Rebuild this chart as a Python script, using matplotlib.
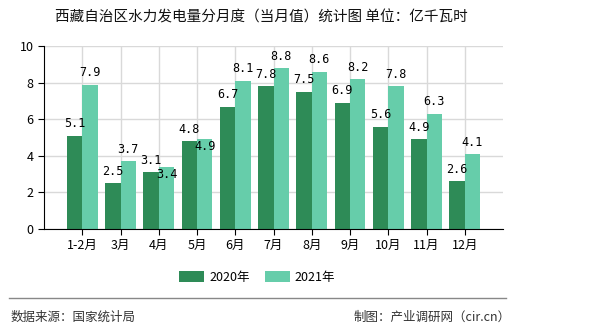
import matplotlib.pyplot as plt
import numpy as np

plt.rcParams['font.family'] = ['Noto Sans CJK SC', 'DejaVu Sans']

months = ["1-2月", "3月", "4月", "5月", "6月", "7月", "8月", "9月", "10月", "11月", "12月"]
y2020 = [5.1, 2.5, 3.1, 4.8, 6.7, 7.8, 7.5, 6.9, 5.6, 4.9, 2.6]
y2021 = [7.9, 3.7, 3.4, 4.9, 8.1, 8.8, 8.6, 8.2, 7.8, 6.3, 4.1]

fig = plt.figure(figsize=(5.9, 3.3), dpi=100)
ax = fig.add_axes([0.0746, 0.306, 0.778, 0.554])

x = np.arange(1, len(months) + 1)
w = 0.4
b1 = ax.bar(x - w / 2, y2020, w, color="#2E8B57", label="2020年", zorder=2)
b2 = ax.bar(x + w / 2, y2021, w, color="#66CDAA", label="2021年", zorder=2)

lab = dict(ha="center", fontsize=8.5, family="DejaVu Sans Mono", color="black", zorder=3)
for r in b1:
    ax.text(r.get_x() + r.get_width() / 2, r.get_height() + 0.3, f"{r.get_height():.1f}", va="bottom", **lab)
for r, v0 in zip(b2, y2020):
    v = r.get_height()
    cx = r.get_x() + r.get_width() / 2
    if v - v0 < 0.6:
        # too close to the 2020 label: put it just under the bar top
        ax.text(cx, v - 0.05, f"{v:.1f}", va="top", **lab)
    else:
        ax.text(cx, v + 0.3, f"{v:.1f}", va="bottom", **lab)

ax.set_xlim(0, 12)
ax.set_ylim(0, 10)
ax.set_yticks([0, 2, 4, 6, 8, 10])
ax.set_xticks(x)
ax.set_xticklabels(months, fontsize=9)
ax.tick_params(axis="y", labelsize=9, length=4, direction="out")
ax.tick_params(axis="x", length=4, direction="out")
ax.grid(True, color="#d9d9d9", linewidth=1, zorder=0)
ax.spines["top"].set_visible(False)
ax.spines["right"].set_visible(False)
ax.set_axisbelow(True)

fig.text(0.443, 0.948, "西藏自治区水力发电量分月度（当月值）统计图 单位：亿千瓦时",
         ha="center", va="center", fontsize=10.5, color="#111111")

fig.legend(handles=[b1, b2], loc="center", bbox_to_anchor=(0.436, 0.16), ncol=2,
           frameon=False, fontsize=9, handlelength=2.0, handleheight=0.9,
           columnspacing=1.2, handletextpad=0.4)

fig.add_artist(plt.Line2D([0.015, 0.858], [0.097, 0.097], color="#888888", linewidth=1))
fig.text(0.017, 0.04, "数据来源：国家统计局", ha="left", va="center", fontsize=9, color="#333333")
fig.text(0.866, 0.04, "制图：产业调研网（cir.cn）", ha="right", va="center", fontsize=9, color="#333333")

fig.savefig("out.png", dpi=100)
